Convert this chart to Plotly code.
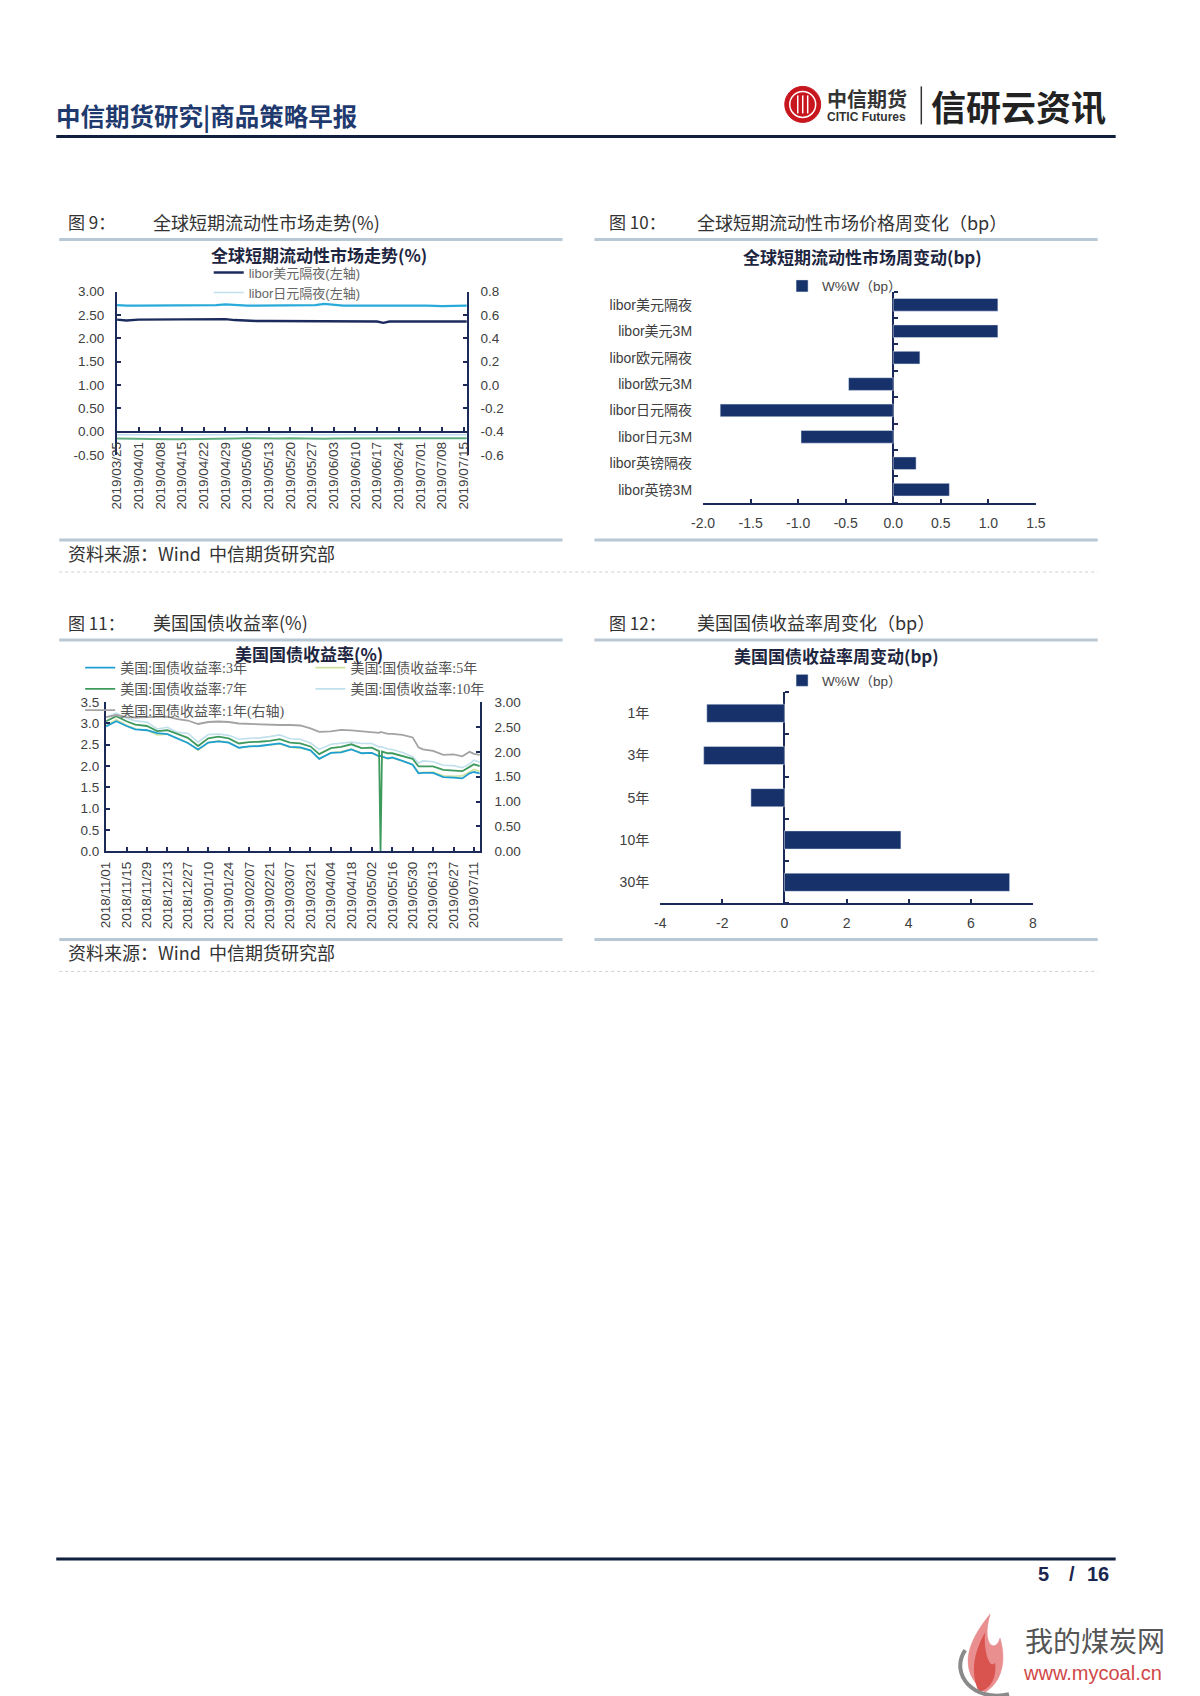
import plotly.graph_objects as go

W, H = 1200, 1696


def px(x):
    return ((x - 9.6) / 0.985) / W


def py(y):
    return 1 - ((y - 6.7) / 0.99) / H


SANS = "Liberation Sans, Arial, Noto Sans CJK SC, sans-serif"
CJK = "Liberation Serif, Noto Sans CJK SC, serif"
NAVY = "#1c2a5a"
BAR = "#17326b"
TICKC = "#404040"

# ---------------- Chart 9 data: 全球短期流动性市场走势 ----------------
c9_dates = ["2019-03-25", "2019-03-28", "2019-04-01", "2019-04-04", "2019-04-08", "2019-04-11",
            "2019-04-15", "2019-04-18", "2019-04-23", "2019-04-26", "2019-04-29", "2019-05-02",
            "2019-05-06", "2019-05-09", "2019-05-13", "2019-05-16", "2019-05-20", "2019-05-23",
            "2019-05-28", "2019-05-31", "2019-06-03", "2019-06-06", "2019-06-10", "2019-06-13",
            "2019-06-17", "2019-06-19", "2019-06-21", "2019-06-24", "2019-06-27", "2019-07-01",
            "2019-07-03", "2019-07-08", "2019-07-11", "2019-07-15", "2019-07-16"]
c9_usd_on = [2.40, 2.38, 2.40, 2.40, 2.40, 2.40, 2.40, 2.40, 2.40, 2.40, 2.41, 2.39,
             2.37, 2.37, 2.37, 2.37, 2.37, 2.37, 2.37, 2.37, 2.37, 2.37, 2.37, 2.37,
             2.36, 2.33, 2.36, 2.36, 2.36, 2.37, 2.36, 2.36, 2.36, 2.36, 2.36]
c9_jpy_on = [-0.07, -0.07, -0.08, -0.07, -0.07, -0.07, -0.07, -0.08, -0.07, -0.07, -0.07, -0.07,
             -0.06, -0.07, -0.07, -0.06, -0.07, -0.07, -0.07, -0.07, -0.07, -0.07, -0.07, -0.06,
             -0.07, -0.07, -0.07, -0.07, -0.07, -0.06, -0.06, -0.07, -0.07, -0.07, -0.07]
c9_gbp_on = [0.685, 0.680, 0.680, 0.680, 0.680, 0.680, 0.680, 0.680, 0.680, 0.685, 0.690, 0.685,
             0.680, 0.680, 0.680, 0.680, 0.680, 0.680, 0.685, 0.695, 0.690, 0.680, 0.680, 0.680,
             0.685, 0.680, 0.680, 0.680, 0.680, 0.685, 0.680, 0.675, 0.675, 0.680, 0.680]
c9_eur_on = [-0.460, -0.462, -0.462, -0.465, -0.465, -0.466, -0.466, -0.466, -0.465, -0.463, -0.462, -0.460,
             -0.458, -0.460, -0.462, -0.460, -0.458, -0.460, -0.462, -0.462, -0.460, -0.460, -0.461, -0.462,
             -0.462, -0.464, -0.463, -0.462, -0.460, -0.458, -0.457, -0.456, -0.456, -0.457, -0.457]
c9_xticks = ["2019-03-25", "2019-04-01", "2019-04-08", "2019-04-15", "2019-04-22", "2019-04-29",
             "2019-05-06", "2019-05-13", "2019-05-20", "2019-05-27", "2019-06-03", "2019-06-10",
             "2019-06-17", "2019-06-24", "2019-07-01", "2019-07-08", "2019-07-15"]
c9_left_ticks = [-0.5, 0, 0.5, 1, 1.5, 2, 2.5, 3]
c9_left_text = ["-0.50", "0.00", "0.50", "1.00", "1.50", "2.00", "2.50", "3.00"]
c9_right_ticks = [-0.6, -0.4, -0.2, 0, 0.2, 0.4, 0.6, 0.8]
c9_right_text = ["-0.6", "-0.4", "-0.2", "0.0", "0.2", "0.4", "0.6", "0.8"]

# ---------------- Chart 10 data: 全球短期流动性市场周变动 ----------------
c10_cats = ["libor美元隔夜", "libor美元3M", "libor欧元隔夜", "libor欧元3M",
            "libor日元隔夜", "libor日元3M", "libor英镑隔夜", "libor英镑3M"]
c10_vals = [1.10, 1.10, 0.28, -0.47, -1.82, -0.97, 0.24, 0.59]
c10_ticks = [-2.0, -1.5, -1.0, -0.5, 0.0, 0.5, 1.0, 1.5]
c10_text = ["-2.0", "-1.5", "-1.0", "-0.5", "0.0", "0.5", "1.0", "1.5"]

# ---------------- Chart 11 data: 美国国债收益率 ----------------
c11_dates = ["2018-11-01", "2018-11-08", "2018-11-15", "2018-11-21", "2018-11-29",
             "2018-12-06", "2018-12-13", "2018-12-20", "2018-12-27",
             "2019-01-03", "2019-01-10", "2019-01-17", "2019-01-24", "2019-01-31",
             "2019-02-07", "2019-02-14", "2019-02-21", "2019-02-28",
             "2019-03-07", "2019-03-14", "2019-03-21", "2019-03-27",
             "2019-04-04", "2019-04-11", "2019-04-18", "2019-04-25",
             "2019-05-02", "2019-05-07", "2019-05-08", "2019-05-09", "2019-05-13", "2019-05-16",
             "2019-05-23", "2019-05-30",
             "2019-06-03", "2019-06-06", "2019-06-13", "2019-06-20", "2019-06-27",
             "2019-07-03", "2019-07-08", "2019-07-11", "2019-07-15"]
c11_3y = [2.93, 3.05, 2.94, 2.86, 2.84, 2.77, 2.75, 2.65, 2.54,
          2.39, 2.55, 2.58, 2.55, 2.43, 2.46, 2.47, 2.50, 2.53,
          2.45, 2.44, 2.37, 2.17, 2.31, 2.32, 2.39, 2.30,
          2.31, 2.23, 2.24, 2.22, 2.18, 2.20, 2.12, 2.03,
          1.83, 1.84, 1.84, 1.74, 1.73, 1.71, 1.83, 1.86, 1.83]
c11_5y = [2.96, 3.09, 2.96, 2.87, 2.84, 2.73, 2.75, 2.65, 2.55,
          2.37, 2.55, 2.59, 2.56, 2.43, 2.46, 2.47, 2.49, 2.52,
          2.44, 2.42, 2.37, 2.17, 2.31, 2.34, 2.40, 2.30,
          2.31, 2.23, 2.24, 2.22, 2.17, 2.19, 2.12, 2.04,
          1.85, 1.85, 1.86, 1.77, 1.76, 1.77, 1.86, 1.92, 1.88]
c11_7y = [3.05, 3.17, 3.05, 2.97, 2.94, 2.82, 2.84, 2.75, 2.66,
          2.47, 2.65, 2.69, 2.65, 2.53, 2.56, 2.57, 2.59, 2.63,
          2.55, 2.53, 2.46, 2.28, 2.42, 2.45, 2.51, 2.42,
          2.43, 2.35, 0.00, 2.34, 2.30, 2.30, 2.23, 2.17,
          1.99, 1.99, 1.99, 1.91, 1.90, 1.88, 1.98, 2.04, 2.00]
c11_10y = [3.14, 3.24, 3.12, 3.06, 3.03, 2.87, 2.91, 2.79, 2.77,
           2.56, 2.74, 2.75, 2.72, 2.63, 2.65, 2.66, 2.69, 2.73,
           2.64, 2.63, 2.54, 2.39, 2.51, 2.53, 2.56, 2.53,
           2.53, 2.45, 2.45, 2.45, 2.40, 2.39, 2.32, 2.22,
           2.07, 2.12, 2.10, 2.02, 2.01, 1.96, 2.05, 2.14, 2.09]
c11_1y = [2.70, 2.74, 2.70, 2.69, 2.70, 2.70, 2.71, 2.66, 2.63,
          2.56, 2.60, 2.61, 2.60, 2.57, 2.56, 2.55, 2.55, 2.54,
          2.54, 2.53, 2.47, 2.40, 2.41, 2.44, 2.43, 2.41,
          2.39, 2.38, 2.40, 2.39, 2.36, 2.36, 2.34, 2.29,
          2.09, 2.05, 2.02, 1.94, 1.95, 1.91, 2.00, 1.96, 1.94]
c11_xticks = ["2018-11-01", "2018-11-15", "2018-11-29", "2018-12-13", "2018-12-27",
              "2019-01-10", "2019-01-24", "2019-02-07", "2019-02-21", "2019-03-07",
              "2019-03-21", "2019-04-04", "2019-04-18", "2019-05-02", "2019-05-16",
              "2019-05-30", "2019-06-13", "2019-06-27", "2019-07-11"]
c11_left_ticks = [0, 0.5, 1, 1.5, 2, 2.5, 3, 3.5]
c11_left_text = ["0.0", "0.5", "1.0", "1.5", "2.0", "2.5", "3.0", "3.5"]
c11_right_ticks = [0, 0.5, 1, 1.5, 2, 2.5, 3]
c11_right_text = ["0.00", "0.50", "1.00", "1.50", "2.00", "2.50", "3.00"]

# ---------------- Chart 12 data: 美国国债收益率周变动 ----------------
c12_cats = ["1年", "3年", "5年", "10年", "30年"]
c12_vals = [-2.5, -2.6, -1.08, 3.75, 7.25]
c12_ticks = [-4, -2, 0, 2, 4, 6, 8]
c12_text = ["-4", "-2", "0", "2", "4", "6", "8"]

fig = go.Figure()

# ---- chart 9 traces
fig.add_trace(go.Scatter(x=c9_dates, y=c9_gbp_on, name="libor英镑隔夜(右轴)", mode="lines",
                         line=dict(color="#29abd9", width=2.2), xaxis="x", yaxis="y2", showlegend=False))
fig.add_trace(go.Scatter(x=c9_dates, y=c9_eur_on, name="libor欧元隔夜(右轴)", mode="lines",
                         line=dict(color="#5fae80", width=2), xaxis="x", yaxis="y2", showlegend=False))
fig.add_trace(go.Scatter(x=c9_dates, y=c9_usd_on, name="libor美元隔夜(左轴)", mode="lines",
                         line=dict(color="#1b2b5e", width=2.4), xaxis="x", yaxis="y", legend="legend"))
fig.add_trace(go.Scatter(x=c9_dates, y=c9_jpy_on, name="libor日元隔夜(左轴)", mode="lines",
                         line=dict(color="#bfe0ee", width=1.6), xaxis="x", yaxis="y", legend="legend"))

# ---- chart 10 traces
fig.add_trace(go.Bar(y=c10_cats, x=c10_vals, orientation="h", name="W%W（bp）", marker_color=BAR,
                     width=0.48, xaxis="x2", yaxis="y3", legend="legend2"))
fig.add_trace(go.Scatter(x=[], y=[], xaxis="x2", yaxis="y4", showlegend=False, hoverinfo="skip"))

# ---- chart 11 traces
fig.add_trace(go.Scatter(x=c11_dates, y=c11_5y, name="美国:国债收益率:5年", mode="lines",
                         line=dict(color="#cfe3a0", width=1.6), xaxis="x3", yaxis="y5", legend="legend4"))
fig.add_trace(go.Scatter(x=c11_dates, y=c11_10y, name="美国:国债收益率:10年", mode="lines",
                         line=dict(color="#c2e0ec", width=1.6), xaxis="x3", yaxis="y5", legend="legend4"))
fig.add_trace(go.Scatter(x=c11_dates, y=c11_3y, name="美国:国债收益率:3年", mode="lines",
                         line=dict(color="#1f9fcf", width=1.8), xaxis="x3", yaxis="y5", legend="legend3"))
fig.add_trace(go.Scatter(x=c11_dates, y=c11_7y, name="美国:国债收益率:7年", mode="lines",
                         line=dict(color="#3f9a5e", width=1.8), xaxis="x3", yaxis="y5", legend="legend3"))
fig.add_trace(go.Scatter(x=c11_dates, y=c11_1y, name="美国:国债收益率:1年(右轴)", mode="lines",
                         line=dict(color="#a3a3a3", width=1.8), xaxis="x3", yaxis="y6", legend="legend3"))

# ---- chart 12 traces
fig.add_trace(go.Bar(y=c12_cats, x=c12_vals, orientation="h", name="W%W（bp）", marker_color=BAR,
                     width=0.43, xaxis="x4", yaxis="y7", legend="legend5"))
fig.add_trace(go.Scatter(x=[], y=[], xaxis="x4", yaxis="y8", showlegend=False, hoverinfo="skip"))

tickfont = dict(family=SANS, size=13.5, color=TICKC)
base = dict(showgrid=False, zeroline=False, linecolor=NAVY, linewidth=2, tickcolor=NAVY,
            tickwidth=1.5, ticklen=4, tickfont=tickfont, fixedrange=True)


def frac_pos(d0, d1, lo, hi, v):
    return d0 + (v - lo) / (hi - lo) * (d1 - d0)


# chart 9 axes
c9_xdom = [px(115), px(466)]
c9_ydom = [py(454), py(291)]
c9_lo, c9_hi = c9_left_ticks[0], c9_left_ticks[-1]
c9_zero = frac_pos(c9_ydom[0], c9_ydom[1], c9_lo, c9_hi, 0)
# chart 10 axes
c10_xdom = [px(703), px(1037)]
c10_ydom = [py(502), py(291)]
c10_zero = frac_pos(c10_xdom[0], c10_xdom[1], c10_ticks[0], c10_ticks[-1], 0)
c10_bounds = [i - 0.5 for i in range(len(c10_cats) + 1)]
# chart 11 axes
c11_xdom = [px(104), px(479)]
c11_ydom = [py(850), py(701)]
# chart 12 axes
c12_xdom = [px(660), px(1034)]
c12_ydom = [py(902), py(691)]
c12_zero = frac_pos(c12_xdom[0], c12_xdom[1], c12_ticks[0], c12_ticks[-1], 0)
c12_bounds = [i - 0.5 for i in range(len(c12_cats) + 1)]

catfont = dict(family=SANS, size=14, color=TICKC)
valfont = dict(family=SANS, size=14, color=TICKC)

fig.update_layout(
    width=W, height=H, margin=dict(l=0, r=0, t=0, b=0),
    paper_bgcolor="white", plot_bgcolor="rgba(0,0,0,0)",
    font=dict(family=SANS, color="#333333"),
    bargap=0.5,
    xaxis=dict(base, domain=c9_xdom, type="date", range=[c9_dates[0], c9_dates[-1]],
               anchor="free", position=c9_zero, tickvals=c9_xticks, tickformat="%Y/%m/%d",
               tickangle=-90, ticks="inside", showline=True, ticklabelstandoff=4),
    yaxis=dict(base, domain=c9_ydom, range=[c9_lo, c9_hi], tickvals=c9_left_ticks,
               ticktext=c9_left_text, ticks="inside", showline=True, anchor="x",
               ticklabelstandoff=8),
    yaxis2=dict(base, overlaying="y", side="right", anchor="x",
                range=[c9_right_ticks[0], c9_right_ticks[-1]], tickvals=c9_right_ticks,
                ticktext=c9_right_text, ticks="inside", showline=True, ticklabelstandoff=9),
    xaxis2=dict(base, domain=c10_xdom, range=[c10_ticks[0], c10_ticks[-1]], anchor="y3",
                tickvals=c10_ticks, ticktext=c10_text, ticks="inside", showline=True,
                zeroline=True, zerolinecolor=NAVY, zerolinewidth=2, ticklabelstandoff=6,
                tickfont=valfont),
    yaxis3=dict(base, domain=c10_ydom, type="category", categoryorder="array",
                categoryarray=c10_cats, range=[len(c10_cats) - 0.5, -0.5], anchor="x2",
                showline=False, ticks="", ticklabelstandoff=10, tickfont=catfont),
    yaxis4=dict(base, overlaying="y3", anchor="free", position=c10_zero, side="right",
                range=[c10_bounds[-1], c10_bounds[0]], tickvals=c10_bounds, ticks="outside",
                showticklabels=False, showline=False),
    xaxis3=dict(base, domain=c11_xdom, type="date", range=[c11_dates[0], c11_dates[-1]],
                anchor="y5", tickvals=c11_xticks, tickformat="%Y/%m/%d", tickangle=-90,
                ticks="inside", showline=True, ticklabelstandoff=3),
    yaxis5=dict(base, domain=c11_ydom, range=[c11_left_ticks[0], c11_left_ticks[-1]],
                tickvals=c11_left_ticks, ticktext=c11_left_text, ticks="inside",
                showline=True, anchor="x3", ticklabelstandoff=2),
    yaxis6=dict(base, overlaying="y5", side="right", anchor="x3",
                range=[c11_right_ticks[0], c11_right_ticks[-1]], tickvals=c11_right_ticks,
                ticktext=c11_right_text, ticks="inside", showline=True, ticklabelstandoff=10),
    xaxis4=dict(base, domain=c12_xdom, range=[c12_ticks[0], c12_ticks[-1]], anchor="y7",
                tickvals=c12_ticks, ticktext=c12_text, ticks="inside", showline=True,
                zeroline=True, zerolinecolor=NAVY, zerolinewidth=2, ticklabelstandoff=6,
                tickfont=valfont),
    yaxis7=dict(base, domain=c12_ydom, type="category", categoryorder="array",
                categoryarray=c12_cats, range=[len(c12_cats) - 0.5, -0.5], anchor="x4",
                showline=False, ticks="", ticklabelstandoff=10, tickfont=catfont),
    yaxis8=dict(base, overlaying="y7", anchor="free", position=c12_zero, side="right",
                range=[c12_bounds[-1], c12_bounds[0]], tickvals=c12_bounds, ticks="outside",
                showticklabels=False, showline=False),
    legend=dict(x=px(207), y=py(257), xanchor="left", yanchor="top", bgcolor="rgba(0,0,0,0)",
                font=dict(family=SANS, size=13, color="#666666"), tracegroupgap=0),
    legend2=dict(x=px(845), y=py(270), xanchor="center", yanchor="top", bgcolor="rgba(0,0,0,0)",
                 font=dict(family=SANS, size=13.5, color="#444444"), orientation="h"),
    legend3=dict(x=px(78), y=py(651), xanchor="left", yanchor="top", bgcolor="rgba(0,0,0,0)",
                 font=dict(family=CJK, size=14, color="#555555"), tracegroupgap=0),
    legend4=dict(x=px(309), y=py(651), xanchor="left", yanchor="top", bgcolor="rgba(0,0,0,0)",
                 font=dict(family=CJK, size=14, color="#555555"), tracegroupgap=0),
    legend5=dict(x=px(845), y=py(664), xanchor="center", yanchor="top", bgcolor="rgba(0,0,0,0)",
                 font=dict(family=SANS, size=13.5, color="#444444"), orientation="h"),
)

shapes = []
annos = []


def hline(x0, x1, y, color, width, dash=None):
    ln = dict(color=color, width=width)
    if dash:
        ln["dash"] = dash
    shapes.append(dict(type="line", xref="paper", yref="paper", x0=px(x0), x1=px(x1),
                       y0=py(y), y1=py(y), line=ln, layer="below"))


def text(x, y, s, size, color, family=SANS, xanchor="left", bold=False):
    annos.append(dict(x=px(x), y=py(y), xref="paper", yref="paper", showarrow=False,
                      text=("<b>%s</b>" % s) if bold else s, xanchor=xanchor, yanchor="middle",
                      font=dict(family=family, size=size, color=color)))


# header
text(52, 115, "中信期货研究|商品策略早报", 24.5, "#1f3a6e", family="Noto Sans CJK SC", bold=True)
hline(54, 1117, 136, "#0f1f3d", 3)
shapes.append(dict(type="circle", xref="paper", yref="paper", x0=px(785), x1=px(821),
                   y0=py(122), y1=py(86), fillcolor="#c8161e", line=dict(color="#c8161e", width=1)))
shapes.append(dict(type="circle", xref="paper", yref="paper", x0=px(790), x1=px(816),
                   y0=py(117), y1=py(91), line=dict(color="white", width=1.5)))
for xv in (798, 803, 808):
    shapes.append(dict(type="line", xref="paper", yref="paper", x0=px(xv), x1=px(xv),
                       y0=py(113), y1=py(95), line=dict(color="white", width=1.5)))
text(825, 98, "中信期货", 20, "#333333", family="Noto Sans CJK SC", bold=True)
text(825, 117, "CITIC Futures", 12, "#333333", bold=True)
shapes.append(dict(type="line", xref="paper", yref="paper", x0=px(922), x1=px(922),
                   y0=py(86), y1=py(124), line=dict(color="#333333", width=1.5)))
text(930, 105, "信研云资讯", 35, "#222222", family="Noto Sans CJK SC", bold=True)

# captions
CAP = "Noto Sans CJK SC"
text(64, 221, "图 9：", 17, "#333333", family=CAP)
text(149, 221, "全球短期流动性市场走势(%)", 18, "#333333", family=CAP)
text(607, 221, "图 10：", 17, "#333333", family=CAP)
text(695, 221, "全球短期流动性市场价格周变化（bp）", 18, "#333333", family=CAP)
text(64, 621, "图 11：", 17, "#333333", family=CAP)
text(149, 621, "美国国债收益率(%)", 18, "#333333", family=CAP)
text(607, 621, "图 12：", 17, "#333333", family=CAP)
text(695, 621, "美国国债收益率周变化（bp）", 18, "#333333", family=CAP)

RULE = "#b9c8d5"
for y in (239, 539):
    hline(57, 562, y, RULE, 3)
    hline(594, 1099, y, RULE, 3)
for y in (639, 938):
    hline(57, 562, y, RULE, 3)
    hline(594, 1099, y, RULE, 3)
hline(57, 1099, 571, "#cfcfcf", 1, "dot")
hline(57, 1099, 970, "#cfcfcf", 1, "dot")
text(64, 552, "资料来源：Wind  中信期货研究部", 18, "#333333", family=CAP)
text(64, 951, "资料来源：Wind  中信期货研究部", 18, "#333333", family=CAP)

# chart titles
TT = "#1d2540"
text(318, 254, "全球短期流动性市场走势(%)", 17, TT, family="Noto Sans CJK SC", xanchor="center", bold=True)
text(863, 256, "全球短期流动性市场周变动(bp)", 17, TT, family="Noto Sans CJK SC", xanchor="center", bold=True)
text(308, 652, "美国国债收益率(%)", 17, TT, family="Noto Sans CJK SC", xanchor="center", bold=True)
text(837, 654, "美国国债收益率周变动(bp)", 17, TT, family="Noto Sans CJK SC", xanchor="center", bold=True)

# footer
hline(54, 1117, 1557, "#0f1f3d", 3)
for xs, s in ((1045, "5"), (1073, "/"), (1099, "16")):
    text(xs, 1572, s, 20, "#1a2550", family=SANS, xanchor="center", bold=True)


# watermark
def path(pts):
    s = "M %f %f" % (px(pts[0][0]), py(pts[0][1]))
    i = 1
    while i + 2 <= len(pts) - 1:
        s += " C %f %f, %f %f, %f %f" % (px(pts[i][0]), py(pts[i][1]), px(pts[i + 1][0]),
                                         py(pts[i + 1][1]), px(pts[i + 2][0]), py(pts[i + 2][1]))
        i += 3
    return s + " Z"


shapes.append(dict(type="path", xref="paper", yref="paper", layer="above",
                   path=path([(986, 1690), (958, 1668), (968, 1640), (991, 1612),
                              (982, 1642), (996, 1652), (1001, 1636),
                              (1008, 1660), (1002, 1680), (986, 1690)]),
                   fillcolor="#ea8f8f", line=dict(color="#e07a7a", width=0.5)))
shapes.append(dict(type="path", xref="paper", yref="paper", layer="above",
                   path=path([(980, 1690), (970, 1668), (976, 1648), (986, 1630),
                              (984, 1652), (992, 1668), (996, 1660),
                              (998, 1676), (992, 1686), (980, 1690)]),
                   fillcolor="#d9534f", line=dict(width=0)))
shapes.append(dict(type="path", xref="paper", yref="paper", layer="above",
                   path="M %f %f C %f %f, %f %f, %f %f" % (px(1010), py(1692), px(975), py(1700),
                                                         px(950), py(1672), px(966), py(1648)),
                   line=dict(color="#8a8a8a", width=4)))
text(1024, 1638, "我的煤炭网", 28, "#555555", family="Noto Sans CJK SC")
text(1022, 1671, "www.mycoal.cn", 20, "#d04848", family=SANS)

fig.update_layout(shapes=shapes, annotations=annos)

fig.write_html("out.html", config={"displayModeBar": False},
               post_script="document.body.style.margin='0';document.body.style.overflow='hidden';")
